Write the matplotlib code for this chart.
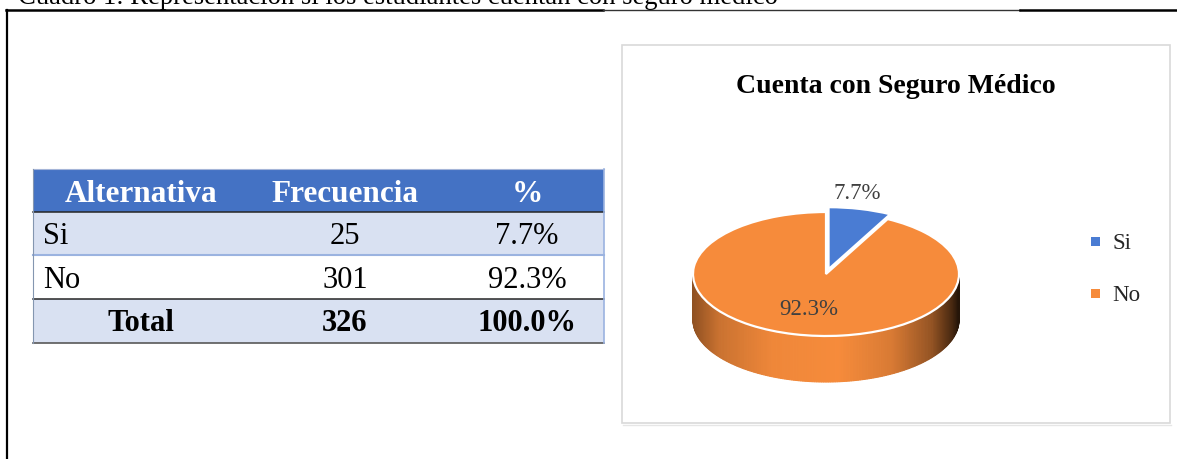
import numpy as np
import matplotlib
matplotlib.use('Agg')
import matplotlib.pyplot as plt
import matplotlib.colors as mcolors
from matplotlib.patches import Rectangle

plt.rcParams['font.family'] = ['Liberation Serif', 'DejaVu Serif']

# Data
caption = 'Cuadro 1: Representación si los estudiantes cuentan con seguro médico'
chart_title = 'Cuenta con Seguro Médico'
header = ['Alternativa', 'Frecuencia', '%']
categories = ['Si', 'No']
frecuencia = [25, 301]
porcentaje = [7.7, 92.3]
total_label = 'Total'
total_freq = 326
total_pct = 100.0

colors = ['#4A7CD3', '#F68B3B']

W, H = 1177, 459
fig = plt.figure(figsize=(W / 100, H / 100), dpi=100)

# ---- 3D-looking pie (top face from ax.pie, side drawn underneath) ----
cx, cy, rx, ry = 826, 274, 133, 62
depth = 46 / ry
x0, x1, y0, y1 = -1.2, 1.2, -2.2, 1.6
pie_ax = fig.add_axes([(cx + x0 * rx) / W, (H - (cy - y0 * ry)) / H,
                       (x1 - x0) * rx / W, (y1 - y0) * ry / H])
wedges, _ = pie_ax.pie(frecuencia, colors=colors, startangle=90, counterclock=False,
                       explode=[0.08, 0],
                       wedgeprops=dict(edgecolor='white', linewidth=1.6, zorder=2))
pie_ax.set_aspect('auto')
pie_ax.set_xlim(x0, x1)
pie_ax.set_ylim(y0, y1)
pie_ax.axis('off')

# side of the big slice, shaded from left to right
base = np.array(mcolors.to_rgb(colors[1]))
shade_x = [-1.0, -0.8, -0.4, 0.1, 0.5, 0.8, 0.95, 1.0]
shade_f = [0.58, 0.82, 0.97, 1.0, 0.88, 0.6, 0.3, 0.15]
t = np.linspace(np.pi, 2 * np.pi, 181)
for a, b in zip(t[:-1], t[1:]):
    f = np.interp(np.cos((a + b) / 2), shade_x, shade_f)
    c = base * f
    xs = [np.cos(a), np.cos(b), np.cos(b), np.cos(a)]
    ys = [np.sin(a), np.sin(b), np.sin(b) - depth, np.sin(a) - depth]
    pie_ax.fill(xs, ys, color=c, lw=0.8, zorder=0.5)

# ---- overlay in pixel coordinates for frame, table, texts ----
ov = fig.add_axes([0, 0, 1, 1], zorder=3)
ov.set_xlim(0, W)
ov.set_ylim(H, 0)
ov.axis('off')

# outer frame and caption (caption is cut at the top edge, as in the source)
ov.plot([7, 7], [10, H], color='black', lw=1.6)
ov.plot([6, 603], [10, 10], color='black', lw=1.8)
ov.plot([603, 1020], [10, 10], color='#333333', lw=1.0)
ov.plot([1020, W], [10, 10], color='black', lw=1.8)
ov.text(18, 4.5, caption, fontsize=19.2, ha='left', va='baseline')

# table
left, right = 33, 604
row_edges = [169, 212, 255, 299, 343]
col_centers = [141, 345, 527]
fills = ['#4472C4', '#D9E1F2', 'white', '#D9E1F2']
for i, fc in enumerate(fills):
    ov.add_patch(Rectangle((left, row_edges[i]), right - left,
                           row_edges[i + 1] - row_edges[i], facecolor=fc, edgecolor='none'))

fs = 22
for j, h in enumerate(header):
    ov.text(col_centers[j], row_edges[0] + 33, h, fontsize=22.5, fontweight='bold',
            color='white', ha='center', va='baseline')
for i, cat in enumerate(categories):
    yb = row_edges[i + 1] + 32.5
    ov.text(43, yb, cat, fontsize=fs, ha='left', va='baseline')
    ov.text(col_centers[1], yb, f'{frecuencia[i]}', fontsize=fs, ha='center', va='baseline')
    ov.text(col_centers[2], yb, f'{porcentaje[i]:.1f}%', fontsize=fs, ha='center', va='baseline')
yb = row_edges[3] + 32
ov.text(col_centers[0], yb, total_label, fontsize=fs, fontweight='bold', ha='center', va='baseline')
ov.text(col_centers[1], yb, f'{total_freq}', fontsize=fs, fontweight='bold', ha='center', va='baseline')
ov.text(col_centers[2], yb, f'{total_pct:.1f}%', fontsize=fs, fontweight='bold', ha='center', va='baseline')

ov.plot([left, right], [row_edges[0], row_edges[0]], color='#A5B5D8', lw=0.8)
ov.plot([left, right], [row_edges[1], row_edges[1]], color='#262626', lw=1.1)
ov.plot([left, right], [row_edges[2], row_edges[2]], color='#9BB3E0', lw=1.5)
ov.plot([left, right], [row_edges[3], row_edges[3]], color='#262626', lw=1.1)
ov.plot([left, right], [row_edges[4], row_edges[4]], color='#595959', lw=1.2)
ov.plot([left, left], [row_edges[0], row_edges[4]], color='#8496B0', lw=0.8)
ov.plot([right, right], [row_edges[0], row_edges[4]], color='#9BB3E0', lw=1.2)

# chart panel
ov.add_patch(Rectangle((622, 45), 548, 378, fill=False, edgecolor='#D9D9D9', lw=1.2))
ov.plot([623, 1171], [424.5, 424.5], color='#E6E6E6', lw=1.0)
ov.text(896, 93, chart_title, fontsize=20, fontweight='bold', ha='center', va='baseline')

# pie labels
ov.text(857, 199, f'{porcentaje[0]:.1f}%', fontsize=16.5, color='#404040',
        ha='center', va='baseline')
ov.text(809, 315, f'{porcentaje[1]:.1f}%', fontsize=16.5, color='#404040',
        ha='center', va='baseline')

# legend
for i, cat in enumerate(categories):
    yc = 241 + i * 52
    ov.add_patch(Rectangle((1091, yc - 4.5), 9, 9, facecolor=colors[i], edgecolor='none'))
    ov.text(1112, yc + 8, cat, fontsize=16.5, color='#262626', ha='left', va='baseline')

fig.savefig('out.png', dpi=100)
